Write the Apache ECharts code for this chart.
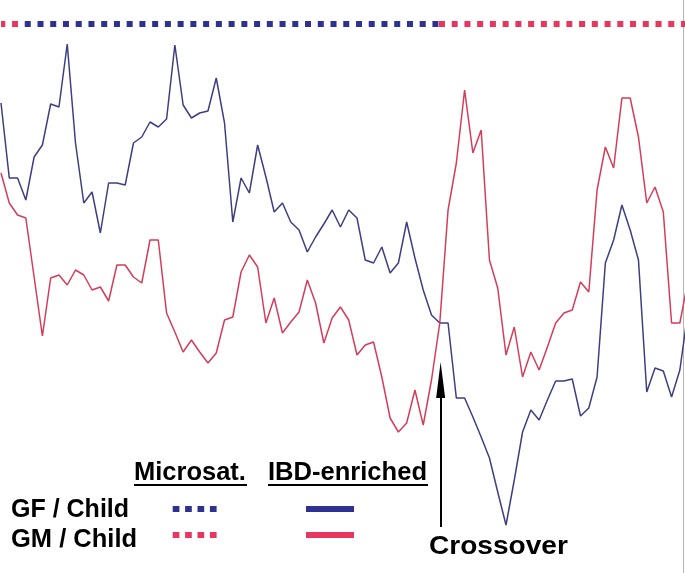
<!DOCTYPE html>
<html><head><meta charset="utf-8">
<script src="https://cdn.jsdelivr.net/npm/echarts@6/dist/echarts.min.js"></script>
<style>html,body{margin:0;padding:0;background:#fff}#c{width:685px;height:573px}</style>
</head><body><div id="c"></div>
<script>
// IBD-enriched sharing score along the chromosome (marker index 0..83)
const gfChild = [87.4,72.4,72.4,68,76.6,79,87.2,86.6,99.2,79.4,
  67.4,69.6,61.4,71.4,71.4,71,79.4,80.6,83.6,82.6,
  84.2,99,87,84.4,85.4,85.8,92.4,83.4,63.6,72.4,
  69.4,79,72.6,65.6,67.4,63.6,62,57.6,60.6,63.2,
  66,62.6,66,64.4,56,55.4,58.6,53.4,55.4,63.6,
  56.4,50,45,43.4,43.4,28.4,28.4,24.6,20.6,16.4,
  9.6,3,12,21.6,26,24,28,31.8,31.8,32.2,
  24.8,26.4,32.6,55.4,60,67,62,56,29.6,34.4,
  33.8,28.6,34,46];
const gmChild = [73.4,67.4,65,64.4,52.6,40.8,52.4,53,51,54,
  53,50,50.6,47.8,55,55,52.6,51.4,60,60,
  45.4,41.6,37.6,40,37.6,35.4,37.4,44,44.6,53.6,
  57,54.6,43.4,48.4,41.4,43.6,45.6,52,47.4,39.4,
  44.4,46.6,44,37,39,39.6,32.6,24.4,21.6,23.4,
  30,23,32,43.4,66,75.4,90,77.4,82,56,
  50.4,37,42.6,32.6,37.6,34,38.6,43.4,45.4,46,
  51.6,49.6,70,78.6,74.4,88.4,88.4,80.6,67.4,70.6,
  65.6,43.4,43.4,52];
// Microsatellite-inferred segments [from, to] in marker index units
const microsatGF = [[2.87, 52.84]];
const microsatGM = [[0, 2.1], [52.9, 83]];
const microsatRow = 103.2;
const crossoverAt = 53.1;
const crossoverArrow = [2.6, 32];

const BLUE_LINE = '#3d3f82', RED_LINE = '#d43d5a';
const BLUE = '#2e3192', RED = '#e8365e';

const chart = echarts.init(document.getElementById('c'), null, {renderer:'canvas'});

function dotted(segs, color, offsets){
  return segs.map((s, k) => ({
    type:'line', silent:true, symbol:'none', animation:false,
    data:[[s[0], microsatRow],[s[1], microsatRow]],
    lineStyle:{color, width:6, type:[6,6.74], dashOffset:offsets[k], cap:'butt'},
    z:3
  }));
}

const series = [
  {type:'line', name:'GF / Child', data:gfChild.map((v,i)=>[i,v]), symbol:'none',
   lineStyle:{color:BLUE_LINE, width:1.5}, animation:false, z:2},
  {type:'line', name:'GM / Child', data:gmChild.map((v,i)=>[i,v]), symbol:'none',
   lineStyle:{color:RED_LINE, width:1.5}, animation:false, z:2,
   markLine:{silent:true, animation:false, symbol:['none','triangle'], symbolSize:[9,36],
     label:{show:false}, lineStyle:{color:'#000', width:2, type:'solid'},
     data:[[{coord:[crossoverAt, crossoverArrow[0]]},{coord:[crossoverAt, crossoverArrow[1]]}]]}},
  ...dotted(microsatGF, BLUE, [0]),
  ...dotted(microsatGM, RED, [1.7, 0])
];

const font = s => 'bold ' + s + 'px "Liberation Sans", Arial, sans-serif';
function txt(t, x, y, size, sx){
  return {type:'text', x, y, scaleX:sx, style:{text:t, font:font(size), fill:'#000', verticalAlign:'middle', align:'left'}, z:10};
}
chart.setOption({
  animation:false,
  grid:{left:1, right:1, top:0, bottom:33},
  xAxis:{type:'value', min:0, max:82.5, show:false},
  yAxis:{type:'value', min:0, max:108, show:false},
  series,
  graphic:[
    {type:'line', shape:{x1:683.5,y1:0,x2:683.5,y2:573}, style:{stroke:'#b5b5b5', lineWidth:1}, z:1},
    txt('Microsat.', 134, 473, 25, 1.02),
    {type:'rect', shape:{x:134,y:484,width:113,height:2}, style:{fill:'#000'}},
    txt('IBD-enriched', 268, 473, 25, 1.022),
    {type:'rect', shape:{x:268,y:484,width:160,height:2}, style:{fill:'#000'}},
    txt('GF / Child', 11, 510.5, 25, 1.0),
    txt('GM / Child', 11, 540, 25, 1.02),
    {type:'line', shape:{x1:172.7,y1:509,x2:217,y2:509}, style:{stroke:BLUE, lineWidth:6, lineDash:[6.7,5.7]}},
    {type:'line', shape:{x1:172.7,y1:535,x2:217,y2:535}, style:{stroke:RED, lineWidth:6, lineDash:[6.7,5.7]}},
    {type:'line', shape:{x1:306,y1:509,x2:354,y2:509}, style:{stroke:BLUE, lineWidth:6}},
    {type:'line', shape:{x1:306,y1:535,x2:354,y2:535}, style:{stroke:RED, lineWidth:6}},
    txt('Crossover', 429, 547, 26, 1.08)
  ]
});
</script></body></html>
